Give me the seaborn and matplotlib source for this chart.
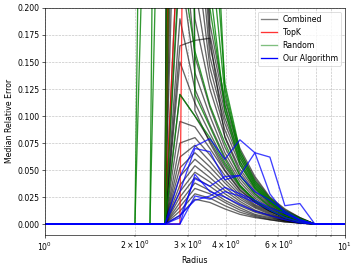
import numpy as np
import pandas as pd
import matplotlib
matplotlib.use('Agg')
import matplotlib.pyplot as plt
from matplotlib.lines import Line2D
import seaborn as sns

# radius grid (log spaced between 1 and 10)
radius = [1.0, 1.122, 1.259, 1.413, 1.585, 1.778, 1.995, 2.239, 2.512, 2.818, 3.162,
          3.548, 3.981, 4.467, 5.012, 5.623, 6.310, 7.079, 7.943, 8.913, 10.0]

# Combined: zero up to r=2.51, then values from r=2.82 to r=7.08
combined = [
    [0] * 9 + [0.008, 0.023, 0.020, 0.014, 0.009, 0.006, 0.004, 0.002, 0.001, 0, 0, 0],
    [0] * 9 + [0.012, 0.028, 0.024, 0.017, 0.011, 0.007, 0.004, 0.002, 0.001, 0, 0, 0],
    [0] * 9 + [0.016, 0.033, 0.028, 0.020, 0.013, 0.008, 0.005, 0.003, 0.001, 0, 0, 0],
    [0] * 9 + [0.020, 0.038, 0.031, 0.022, 0.015, 0.009, 0.006, 0.003, 0.001, 0, 0, 0],
    [0] * 9 + [0.025, 0.043, 0.035, 0.025, 0.017, 0.011, 0.007, 0.003, 0.001, 0, 0, 0],
    [0] * 9 + [0.030, 0.048, 0.039, 0.028, 0.019, 0.012, 0.008, 0.004, 0.002, 0, 0, 0],
    [0] * 9 + [0.036, 0.054, 0.043, 0.031, 0.021, 0.013, 0.008, 0.004, 0.002, 0, 0, 0],
    [0] * 9 + [0.044, 0.060, 0.048, 0.034, 0.023, 0.015, 0.009, 0.005, 0.002, 0, 0, 0],
    [0] * 9 + [0.052, 0.066, 0.053, 0.038, 0.025, 0.016, 0.010, 0.005, 0.002, 0, 0, 0],
    [0] * 9 + [0.062, 0.073, 0.058, 0.041, 0.027, 0.017, 0.011, 0.006, 0.002, 0, 0, 0],
    [0] * 9 + [0.075, 0.080, 0.064, 0.045, 0.029, 0.018, 0.012, 0.006, 0.003, 0, 0, 0],
    [0] * 9 + [0.095, 0.090, 0.070, 0.049, 0.031, 0.020, 0.012, 0.007, 0.003, 0, 0, 0],
    [0] * 9 + [0.120, 0.100, 0.077, 0.053, 0.034, 0.021, 0.013, 0.007, 0.003, 0, 0, 0],
    [0] * 9 + [0.150, 0.112, 0.084, 0.057, 0.036, 0.022, 0.014, 0.008, 0.003, 0, 0, 0],
    [0] * 9 + [0.190, 0.125, 0.092, 0.062, 0.039, 0.024, 0.015, 0.008, 0.003, 0, 0, 0],
    [0] * 9 + [0.240, 0.140, 0.100, 0.066, 0.042, 0.026, 0.016, 0.009, 0.004, 0, 0, 0],
    [0] * 9 + [0.300, 0.155, 0.108, 0.071, 0.045, 0.028, 0.017, 0.009, 0.004, 0, 0, 0],
    [0] * 9 + [0.165, 0.170, 0.172, 0.080, 0.048, 0.030, 0.018, 0.010, 0.004, 0, 0, 0],
    [0] * 9 + [0.480, 0.190, 0.125, 0.081, 0.051, 0.032, 0.019, 0.010, 0.004, 0, 0, 0],
    [0] * 9 + [0.620, 0.220, 0.135, 0.087, 0.055, 0.034, 0.020, 0.011, 0.005, 0, 0, 0],
    [0] * 9 + [0.800, 0.260, 0.145, 0.093, 0.058, 0.036, 0.021, 0.011, 0.005, 0, 0, 0],
    [0] * 9 + [1.050, 0.310, 0.155, 0.098, 0.061, 0.038, 0.022, 0.012, 0.005, 0, 0, 0],
    [0] * 9 + [1.400, 0.370, 0.165, 0.104, 0.064, 0.040, 0.023, 0.012, 0.005, 0, 0, 0],
    [0] * 9 + [1.900, 0.450, 0.175, 0.110, 0.067, 0.042, 0.024, 0.013, 0.006, 0, 0, 0],
    [0] * 9 + [2.500, 0.550, 0.185, 0.115, 0.070, 0.044, 0.025, 0.014, 0.006, 0, 0, 0],
    [0] * 9 + [3.000, 0.105, 0.075, 0.050, 0.032, 0.020, 0.012, 0.006, 0.002, 0, 0, 0],
]

topk = [
    [0] * 9 + [1.2, 1.6, 1.9, 2.1, 2.3, 2.4, 2.5, 2.6, 2.6, 2.7, 2.7, 2.8],
    [0] * 9 + [0.9, 1.3, 1.6, 1.8, 2.0, 2.1, 2.2, 2.3, 2.3, 2.4, 2.4, 2.5],
    [0] * 9 + [0.3, 0.6, 0.9, 1.1, 1.3, 1.4, 1.5, 1.6, 1.6, 1.7, 1.7, 1.8],
    [0] * 10 + [1.5, 1.8, 2.0, 2.2, 2.3, 2.4, 2.5, 2.5, 2.6, 2.6, 2.7],
]

random_ = [
    [0] * 7 + [1.1, 1.6, 1.3, 0.8, 0.32, 0.130, 0.068, 0.040, 0.024, 0.012, 0.005, 0, 0, 0],
    [0] * 7 + [0.5, 1.2, 1.0, 0.6, 0.26, 0.120, 0.062, 0.036, 0.021, 0.011, 0.004, 0, 0, 0],
    [0] * 8 + [1.5, 1.4, 0.9, 0.40, 0.125, 0.065, 0.038, 0.022, 0.012, 0.005, 0, 0, 0],
    [0] * 8 + [0.6, 0.9, 0.7, 0.22, 0.105, 0.055, 0.033, 0.020, 0.010, 0.004, 0, 0, 0],
    [0] * 9 + [0.9, 0.45, 0.20, 0.110, 0.058, 0.034, 0.020, 0.010, 0.004, 0, 0, 0],
    [0] * 9 + [2.0, 0.12, 0.09, 0.060, 0.036, 0.022, 0.013, 0.006, 0.002, 0, 0, 0],
    [0] * 9 + [0.25, 0.16, 0.11, 0.075, 0.045, 0.028, 0.016, 0.008, 0.003, 0, 0, 0],
    [0] * 9 + [0.12, 0.10, 0.08, 0.055, 0.035, 0.022, 0.013, 0.006, 0.002, 0, 0, 0],
]

ours = [
    [0] * 9 + [0.044, 0.072, 0.079, 0.060, 0.078, 0.066, 0.062, 0.017, 0.019, 0, 0, 0],
    [0] * 9 + [0.030, 0.070, 0.067, 0.041, 0.045, 0.030, 0.022, 0.012, 0.004, 0, 0, 0],
    [0] * 9 + [0.006, 0.042, 0.035, 0.044, 0.045, 0.066, 0.028, 0.010, 0.003, 0, 0, 0],
    [0] * 9 + [0.000, 0.026, 0.023, 0.030, 0.026, 0.020, 0.013, 0.006, 0.002, 0, 0, 0],
    [0] * 9 + [0.000, 0.046, 0.030, 0.025, 0.018, 0.012, 0.008, 0.004, 0.001, 0, 0, 0],
    [0] * 9 + [0.008, 0.022, 0.026, 0.034, 0.028, 0.022, 0.015, 0.010, 0.004, 0, 0, 0],
]

groups = [('Combined', combined, 'black', 0.6),
          ('TopK', topk, 'red', 0.75),
          ('Random', random_, 'green', 0.8),
          ('Our Algorithm', ours, 'blue', 0.75)]

fig, ax = plt.subplots(figsize=(357 / 56, 266 / 56), dpi=56)
fig.subplots_adjust(left=0.126, right=0.966, top=0.97, bottom=0.117)

for name, runs, color, alpha in groups:
    rows = []
    for i, run in enumerate(runs):
        for r, v in zip(radius, run):
            rows.append((name, i, r, v))
    df = pd.DataFrame(rows, columns=['method', 'run', 'radius', 'error'])
    sns.lineplot(data=df, x='radius', y='error', units='run', estimator=None,
                 color=color, alpha=alpha, lw=1.7, ax=ax)

ax.set_xscale('log')
ax.set_xlim(1, 10)
ax.set_ylim(-0.01, 0.2)
ax.set_yticks(np.arange(0, 0.201, 0.025))
ax.grid(True, which='both', linestyle='--', color='#b0b0b0', lw=0.8, alpha=0.8)
ax.set_xlabel('Radius')
ax.set_ylabel('Median Relative Error')

handles = [Line2D([], [], color='gray', lw=1.7),
           Line2D([], [], color='red', alpha=0.8, lw=1.7),
           Line2D([], [], color='green', alpha=0.5, lw=1.7),
           Line2D([], [], color='blue', lw=1.7)]
ax.legend(handles, ['Combined', 'TopK', 'Random', 'Our Algorithm'], loc='upper right')

plt.savefig('out.png', dpi=56)
